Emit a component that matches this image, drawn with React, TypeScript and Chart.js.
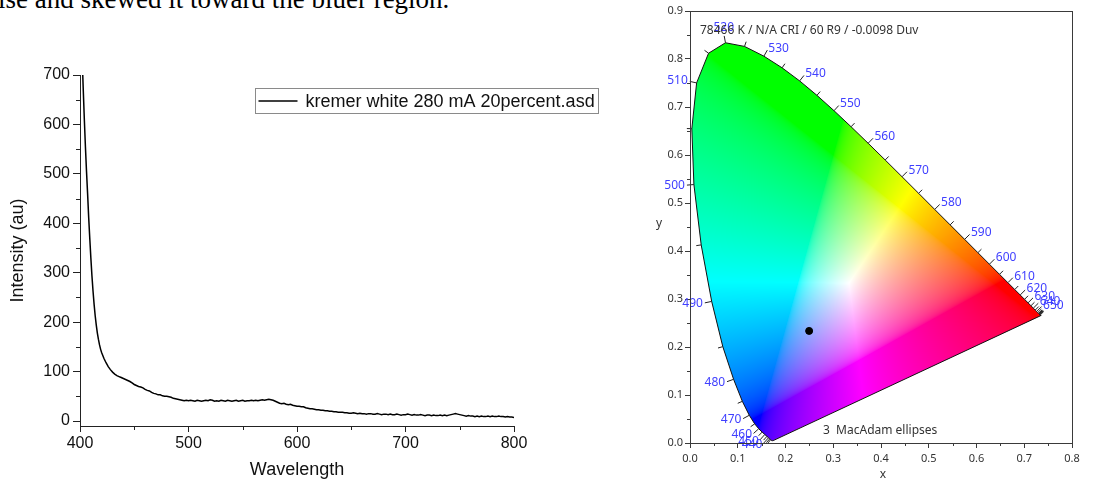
import React, { useEffect, useRef } from 'react';
import { Chart, registerables } from 'chart.js';
Chart.register(...registerables);

// ---------- Left chart data (spectrum) ----------
const wavelengths = [
  400, 401, 402, 403, 404, 405, 406, 407, 408, 409, 410, 411, 412, 413, 414, 415, 416, 417, 418, 419, 420,
  422, 424, 426, 428, 430, 432, 434, 436, 438, 440, 442, 444, 446, 448, 450, 452, 454, 456, 458, 460,
  462, 464, 466, 468, 470, 472, 474, 476, 478, 480, 482, 484, 486, 488, 490, 492, 494, 496, 498, 500,
  502, 504, 506, 508, 510, 512, 514, 516, 518, 520, 522, 524, 526, 528, 530, 532, 534, 536, 538, 540,
  542, 544, 546, 548, 550, 552, 554, 556, 558, 560, 562, 564, 566, 568, 570, 572, 574, 576, 578, 580,
  582, 584, 586, 588, 590, 592, 594, 596, 598, 600, 602, 604, 606, 608, 610, 612, 614, 616, 618, 620,
  622, 624, 626, 628, 630, 632, 634, 636, 638, 640, 642, 644, 646, 648, 650, 652, 654, 656, 658, 660,
  662, 664, 666, 668, 670, 672, 674, 676, 678, 680, 682, 684, 686, 688, 690, 692, 694, 696, 698, 700,
  702, 704, 706, 708, 710, 712, 714, 716, 718, 720, 722, 724, 726, 728, 730, 732, 734, 736, 738, 740,
  742, 744, 746, 748, 750, 752, 754, 756, 758, 760, 762, 764, 766, 768, 770, 772, 774, 776, 778, 780,
  782, 784, 786, 788, 790, 792, 794, 796, 798, 800,
];
const intensity = [
  840, 790, 735, 670, 610, 555, 505, 460, 412, 370, 330, 294, 263, 236, 213, 194, 178, 165, 154, 145, 138,
  127, 118, 110, 104, 99, 95, 92, 90, 88, 86, 84, 82, 80, 77, 74, 72, 70, 69, 67, 64,
  62, 61, 58, 56, 55, 53, 53, 51, 50, 50, 49, 48, 46, 45, 44, 43, 42, 41, 42, 41,
  42, 41, 40, 42, 41, 40, 41, 42, 41, 43, 42, 40, 41, 40, 42, 41, 40, 42, 41, 40,
  41, 42, 40, 41, 42, 40, 41, 41, 42, 41, 42, 41, 42, 43, 42, 43, 44, 43, 42, 40,
  38, 36, 35, 36, 34, 33, 34, 32, 31, 30, 30, 29, 29, 27, 26, 25, 25, 24, 23, 23,
  22, 22, 21, 21, 20, 20, 19, 19, 18, 18, 18, 17, 17, 16, 16, 17, 16, 15, 16, 15,
  15, 14, 15, 15, 14, 14, 15, 14, 13, 14, 14, 13, 14, 13, 13, 14, 13, 12, 13, 13,
  14, 13, 12, 13, 12, 12, 13, 12, 11, 12, 12, 11, 12, 11, 11, 12, 11, 12, 11, 12,
  13, 14, 15, 14, 13, 12, 11, 10, 11, 10, 10, 9, 10, 9, 10, 9, 9, 10, 9, 10,
  9, 9, 10, 9, 9, 8, 9, 8, 8, 7,
];
const legendLabel = 'kremer white 280 mA 20percent.asd';
const leftXTicks = [400, 500, 600, 700, 800];
const leftYTicks = [0, 100, 200, 300, 400, 500, 600, 700];
const leftXMinor = [450, 550, 650, 750];
const leftYMinor = [50, 150, 250, 350, 450, 550, 650];

// ---------- Right chart data (CIE 1931 chromaticity) ----------
const locusWl = [
  380, 385, 390, 395, 400, 405, 410, 415, 420, 425, 430, 435, 440, 445, 450, 455, 460, 465, 470, 475,
  480, 485, 490, 495, 500, 505, 510, 515, 520, 525, 530, 535, 540, 545, 550, 555, 560, 565, 570, 575,
  580, 585, 590, 595, 600, 605, 610, 615, 620, 625, 630, 635, 640, 645, 650, 655, 660, 665, 670, 675,
  680, 685, 690, 695, 700,
];
const locusX = [
  0.17411, 0.17401, 0.1738, 0.17356, 0.17334, 0.17302, 0.17258, 0.17209, 0.17141, 0.1703, 0.16888, 0.1669,
  0.16441, 0.1611, 0.15664, 0.15099, 0.14396, 0.1355, 0.12412, 0.10959, 0.09129, 0.06871, 0.04539, 0.02346,
  0.00817, 0.00386, 0.01387, 0.03885, 0.0743, 0.11416, 0.15472, 0.19288, 0.22962, 0.26578, 0.3016, 0.33736,
  0.3731, 0.40874, 0.44406, 0.47877, 0.51249, 0.54479, 0.57515, 0.60293, 0.62704, 0.64823, 0.66576, 0.68008,
  0.6915, 0.70061, 0.70792, 0.71403, 0.71903, 0.72303, 0.72599, 0.72827, 0.72997, 0.73109, 0.73199, 0.73272,
  0.73342, 0.73405, 0.73469, 0.73469, 0.73469,
];
const locusY = [
  0.00496, 0.00498, 0.00492, 0.00492, 0.0048, 0.00478, 0.0048, 0.00483, 0.0051, 0.00579, 0.0069, 0.00856,
  0.01086, 0.01379, 0.01771, 0.02274, 0.0297, 0.03988, 0.0578, 0.08684, 0.1327, 0.20072, 0.29498, 0.4127,
  0.53842, 0.65482, 0.75019, 0.81202, 0.8338, 0.82621, 0.80586, 0.78163, 0.75433, 0.72432, 0.69231, 0.65885,
  0.62445, 0.58961, 0.55471, 0.5202, 0.48659, 0.45443, 0.42423, 0.3965, 0.37249, 0.35139, 0.33401, 0.31975,
  0.30834, 0.2993, 0.29203, 0.28593, 0.28093, 0.27695, 0.27401, 0.27173, 0.27003, 0.26891, 0.26801, 0.26728,
  0.26658, 0.26595, 0.26531, 0.26531, 0.26531,
];
const tickWl = [
  430, 435, 440, 445, 450, 455, 460, 465, 470, 475, 480, 485, 490, 495, 500, 505, 510, 515, 520, 525, 530,
  535, 540, 545, 550, 555, 560, 565, 570, 575, 580, 585, 590, 595, 600, 605, 610, 615, 620, 625, 630, 635,
  640, 645, 650, 655, 660, 665, 670, 675, 680,
];
const labeledWl = [
  440, 450, 460, 470, 480, 490, 500, 510, 520, 530, 540, 550, 560, 570, 580, 590, 600, 610, 620, 630, 640, 650,
];
const sampleX = [0.2495];
const sampleY = [0.2335];
const cieTitle = '78466 K / N/A CRI / 60 R9 / -0.0098 Duv';
const cieNote = '3  MacAdam ellipses';
const rightXMinor = [0.05, 0.15, 0.25, 0.35, 0.45, 0.55, 0.65, 0.75];
const rightYMinor = [0.05, 0.15, 0.25, 0.35, 0.45, 0.55, 0.65, 0.75, 0.85];

const leftFont = '"Liberation Sans", Arial, sans-serif';
const rightFont = '"Noto Sans", "Open Sans", sans-serif';

function minorTicksPlugin(id: string, xVals: number[], yVals: number[], len: number, color: string) {
  return {
    id,
    afterDraw(chart: any) {
      const { ctx, chartArea: a, scales } = chart;
      ctx.save();
      ctx.strokeStyle = color;
      ctx.lineWidth = 1;
      ctx.beginPath();
      for (const v of xVals) {
        const px = Math.round(scales.x.getPixelForValue(v)) + 0.5;
        ctx.moveTo(px, a.bottom);
        ctx.lineTo(px, a.bottom + len);
      }
      for (const v of yVals) {
        const py = Math.round(scales.y.getPixelForValue(v)) + 0.5;
        ctx.moveTo(a.left, py);
        ctx.lineTo(a.left - len, py);
      }
      ctx.stroke();
      ctx.restore();
    },
  };
}

const legendPlugin = {
  id: 'boxLegend',
  afterDraw(chart: any) {
    const { ctx, chartArea: a } = chart;
    const bx = a.left + 175.5, by = a.top + 13.5, bw = 343, bh = 25;
    ctx.save();
    ctx.strokeStyle = '#8a8a8a';
    ctx.lineWidth = 1;
    ctx.strokeRect(bx, by, bw, bh);
    ctx.strokeStyle = '#000';
    ctx.lineWidth = 1.5;
    ctx.beginPath();
    ctx.moveTo(bx + 3, by + bh / 2);
    ctx.lineTo(bx + 42, by + bh / 2);
    ctx.stroke();
    ctx.fillStyle = '#111';
    ctx.font = `18px ${leftFont}`;
    ctx.textBaseline = 'middle';
    ctx.textAlign = 'left';
    ctx.fillText(legendLabel, bx + 50, by + bh / 2 + 1);
    ctx.restore();
  },
};

// white point E (x = y = 1/3) rendered as white
const WR = 1.2048, WG = 0.9484, WB = 0.9087;
function xyToRgb(cx: number, cy: number) {
  const yy = Math.max(cy, 1e-4);
  const X = cx / yy, Y = 1, Z = (1 - cx - yy) / yy;
  let r = (3.2406 * X - 1.5372 * Y - 0.4986 * Z) / WR;
  let g = (-0.9689 * X + 1.8758 * Y + 0.0415 * Z) / WG;
  let b = (0.0557 * X - 0.204 * Y + 1.057 * Z) / WB;
  r = Math.max(r, 0); g = Math.max(g, 0); b = Math.max(b, 0);
  const m = Math.max(r, g, b) || 1;
  const gam = (c: number) => (c <= 0.0031308 ? 12.92 * c : 1.055 * Math.pow(c, 1 / 2.4) - 0.055);
  return [gam(r / m) * 255, gam(g / m) * 255, gam(b / m) * 255];
}

function locusPath(ctx: any, xs: any, ys: any) {
  ctx.beginPath();
  locusX.forEach((vx, i) => {
    const px = xs.getPixelForValue(vx), py = ys.getPixelForValue(locusY[i]);
    if (i === 0) ctx.moveTo(px, py); else ctx.lineTo(px, py);
  });
  ctx.closePath();
}

const cieFillPlugin = {
  id: 'cieFill',
  beforeDatasetsDraw(chart: any) {
    const { ctx, chartArea: a, scales } = chart;
    const xs = scales.x, ys = scales.y;
    const w = Math.ceil(a.right - a.left), h = Math.ceil(a.bottom - a.top);
    const off = document.createElement('canvas');
    off.width = w; off.height = h;
    const octx = off.getContext('2d')!;
    const img = octx.createImageData(w, h);
    for (let j = 0; j < h; j++) {
      const cy = ys.getValueForPixel(a.top + j + 0.5);
      for (let i = 0; i < w; i++) {
        const cx = xs.getValueForPixel(a.left + i + 0.5);
        const [r, g, b] = xyToRgb(cx, cy);
        const k = (j * w + i) * 4;
        img.data[k] = r; img.data[k + 1] = g; img.data[k + 2] = b; img.data[k + 3] = 255;
      }
    }
    octx.putImageData(img, 0, 0);
    ctx.save();
    locusPath(ctx, xs, ys);
    ctx.clip();
    ctx.drawImage(off, a.left, a.top);
    ctx.restore();
  },
};

const cieDecorPlugin = {
  id: 'cieDecor',
  afterDatasetsDraw(chart: any) {
    const { ctx, chartArea: a, scales } = chart;
    const xs = scales.x, ys = scales.y;
    const pt = (i: number) => ({ x: xs.getPixelForValue(locusX[i]), y: ys.getPixelForValue(locusY[i]) });
    const cx = xs.getPixelForValue(0.333), cy = ys.getPixelForValue(0.333);
    ctx.save();
    ctx.strokeStyle = '#222';
    ctx.lineWidth = 1;
    ctx.font = `12px ${rightFont}`;
    ctx.fillStyle = '#4040ff';
    for (const wl of tickWl) {
      const i = locusWl.indexOf(wl);
      if (i < 0) continue;
      const p = pt(i), p0 = pt(Math.max(i - 1, 0)), p1 = pt(Math.min(i + 1, locusWl.length - 1));
      let tx = p1.x - p0.x, ty = p1.y - p0.y;
      const tl = Math.hypot(tx, ty) || 1;
      tx /= tl; ty /= tl;
      let nx = ty, ny = -tx;
      if ((p.x - cx) * nx + (p.y - cy) * ny < 0) { nx = -nx; ny = -ny; }
      const labeled = labeledWl.includes(wl);
      const len = labeled ? 7 : 5;
      ctx.beginPath();
      ctx.moveTo(p.x, p.y);
      ctx.lineTo(p.x + nx * len, p.y + ny * len);
      ctx.stroke();
      if (labeled) {
        const lx = p.x + nx * (len + 2), ly = p.y + ny * (len + 2);
        if (nx < -0.3) { ctx.textAlign = 'right'; ctx.textBaseline = 'middle'; }
        else if (nx > 0.3) { ctx.textAlign = 'left'; ctx.textBaseline = 'middle'; }
        else { ctx.textAlign = 'center'; ctx.textBaseline = ny < 0 ? 'bottom' : 'top'; }
        ctx.fillText(String(wl), lx, ly);
      }
    }
    ctx.fillStyle = '#333';
    ctx.font = `12px ${rightFont}`;
    ctx.textAlign = 'left';
    ctx.textBaseline = 'middle';
    ctx.fillText(cieTitle, a.left + 10, a.top + 20);
    ctx.fillText(cieNote, a.left + 133, a.bottom - 12);
    ctx.restore();
  },
  afterDraw(chart: any) {
    const { ctx, chartArea: a } = chart;
    ctx.save();
    ctx.strokeStyle = '#3a3a3a';
    ctx.lineWidth = 1;
    ctx.strokeRect(Math.round(a.left) + 0.5, Math.round(a.top) + 0.5, Math.round(a.right - a.left), Math.round(a.bottom - a.top));
    ctx.fillStyle = '#333';
    ctx.font = `12px ${rightFont}`;
    ctx.textAlign = 'center';
    ctx.textBaseline = 'middle';
    ctx.fillText('y', a.left - 31, (a.top + a.bottom) / 2 - 3);
    ctx.fillText('x', (a.left + a.right) / 2 + 2, a.bottom + 32);
    ctx.restore();
  },
};

export default function App() {
  const leftRef = useRef<HTMLCanvasElement>(null);
  const rightRef = useRef<HTMLCanvasElement>(null);

  useEffect(() => {
    const spectrum = wavelengths.map((w, i) => ({ x: w, y: intensity[i] }));
    const c1 = new Chart(leftRef.current!, {
      type: 'line',
      data: {
        datasets: [
          {
            label: legendLabel,
            data: spectrum,
            borderColor: '#000',
            borderWidth: 1.5,
            pointRadius: 0,
            tension: 0,
          },
        ],
      },
      options: {
        animation: false,
        responsive: false,
        layout: { padding: { left: 0, top: 25, right: 126, bottom: 0 } },
        plugins: { legend: { display: false }, tooltip: { enabled: false } },
        scales: {
          x: {
            type: 'linear',
            min: 400,
            max: 800,
            afterBuildTicks: (s: any) => { s.ticks = leftXTicks.map((v) => ({ value: v })); },
            ticks: {
              autoSkip: false,
              maxRotation: 0,
              padding: 2,
              color: '#111',
              font: { family: leftFont, size: 16 },
              callback: (v: any) => String(v),
            },
            grid: { drawOnChartArea: false, tickLength: 6, tickColor: '#222' },
            border: { color: '#222', width: 1 },
            title: {
              display: true,
              text: 'Wavelength',
              color: '#111',
              font: { family: leftFont, size: 18 },
              padding: { top: 0, bottom: 2 },
            },
            afterFit: (s: any) => { s.height = 57; },
          },
          y: {
            type: 'linear',
            min: -10,
            max: 700,
            afterBuildTicks: (s: any) => { s.ticks = leftYTicks.map((v) => ({ value: v })); },
            ticks: {
              autoSkip: false,
              padding: 3,
              color: '#111',
              font: { family: leftFont, size: 16 },
              callback: (v: any) => String(v),
            },
            grid: { drawOnChartArea: false, tickLength: 7, tickColor: '#222' },
            border: { color: '#222', width: 1 },
            title: {
              display: true,
              text: 'Intensity (au)',
              color: '#111',
              font: { family: leftFont, size: 18 },
              padding: { top: 7, bottom: 0 },
            },
            afterFit: (s: any) => { s.width = 80; },
          },
        },
      },
      plugins: [minorTicksPlugin('leftMinor', leftXMinor, leftYMinor, 4, '#222'), legendPlugin],
    } as any);

    const locusData = locusX.map((x, i) => ({ x, y: locusY[i] }));
    locusData.push({ x: locusX[0], y: locusY[0] });
    const c2 = new Chart(rightRef.current!, {
      type: 'scatter',
      data: {
        datasets: [
          {
            label: 'locus',
            data: locusData,
            showLine: true,
            borderColor: '#111',
            borderWidth: 1,
            pointRadius: 0,
            tension: 0,
          },
          {
            label: 'sample',
            data: sampleX.map((x, i) => ({ x, y: sampleY[i] })),
            pointRadius: 3.5,
            backgroundColor: '#000',
            borderColor: '#000',
            borderWidth: 1,
          },
        ],
      },
      options: {
        animation: false,
        responsive: false,
        layout: { padding: { left: 0, top: 11, right: 39, bottom: 0 } },
        plugins: { legend: { display: false }, tooltip: { enabled: false } },
        scales: {
          x: {
            type: 'linear',
            min: 0,
            max: 0.8,
            ticks: {
              stepSize: 0.1,
              autoSkip: false,
              maxRotation: 0,
              padding: 4,
              color: '#333',
              font: { family: rightFont, size: 11 },
              callback: (v: any) => Number(v).toFixed(1),
            },
            grid: { drawOnChartArea: false, tickLength: 5, tickColor: '#3a3a3a' },
            border: { display: false },
            afterFit: (s: any) => { s.height = 40; },
          },
          y: {
            type: 'linear',
            min: 0,
            max: 0.9,
            ticks: {
              stepSize: 0.1,
              autoSkip: false,
              padding: 2,
              color: '#333',
              font: { family: rightFont, size: 11 },
              callback: (v: any) => Number(v).toFixed(1),
            },
            grid: { drawOnChartArea: false, tickLength: 5, tickColor: '#3a3a3a' },
            border: { display: false },
            afterFit: (s: any) => { s.width = 50; },
          },
        },
      },
      plugins: [cieFillPlugin, cieDecorPlugin, minorTicksPlugin('rightMinor', rightXMinor, rightYMinor, 3, '#3a3a3a')],
    } as any);

    return () => {
      c1.destroy();
      c2.destroy();
    };
  }, []);

  return (
    <div style={{ position: 'absolute', left: 0, top: 0, width: 1111, height: 483, background: '#fff', overflow: 'hidden' }}>
      <div
        style={{
          position: 'absolute',
          left: -2,
          top: -14,
          fontFamily: '"Liberation Serif", "Times New Roman", serif',
          fontSize: 27,
          lineHeight: '27px',
          whiteSpace: 'nowrap',
          color: '#000',
        }}
      >
        ise and skewed it toward the bluer region.
      </div>
      <div style={{ position: 'absolute', left: 0, top: 50, width: 640, height: 433 }}>
        <canvas ref={leftRef} width={640} height={433} style={{ display: 'block', width: 640, height: 433 }} />
      </div>
      <div style={{ position: 'absolute', left: 640, top: 0, width: 471, height: 483 }}>
        <canvas ref={rightRef} width={471} height={483} style={{ display: 'block', width: 471, height: 483 }} />
      </div>
    </div>
  );
}
